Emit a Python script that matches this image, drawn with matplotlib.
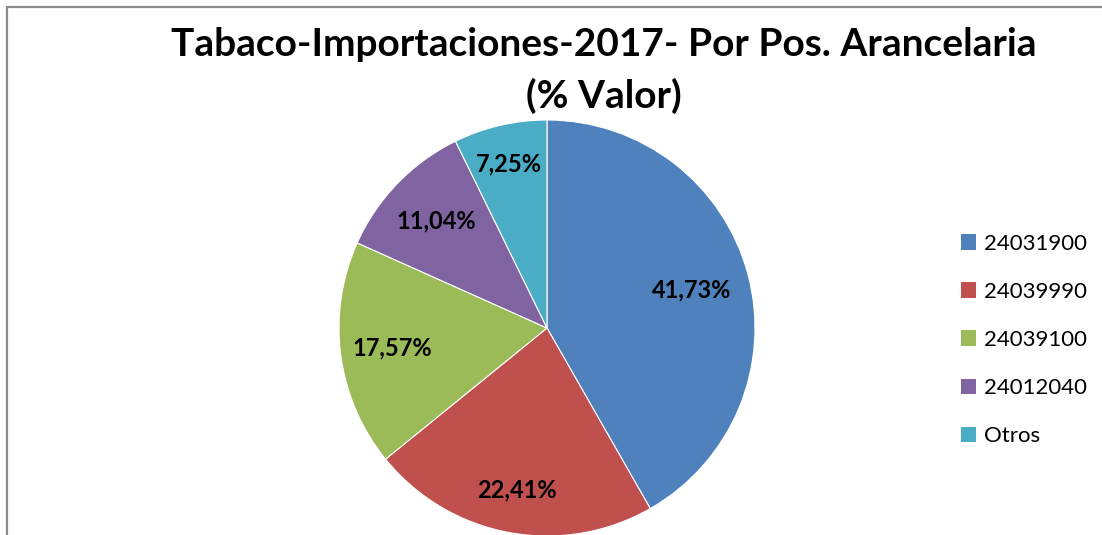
import matplotlib
matplotlib.use('Agg')
import numpy as np
import matplotlib.pyplot as plt
from matplotlib.patches import Rectangle, Patch

plt.rcParams['font.family'] = ['Lato', 'DejaVu Sans']

# data
categorias = ['24031900', '24039990', '24039100', '24012040', 'Otros']
valores = [41.73, 22.41, 17.57, 11.04, 7.25]
colores = ['#4F81BD', '#C0504D', '#9BBB59', '#8064A2', '#4BACC6']
titulo1 = 'Tabaco-Importaciones-2017- Por Pos. Arancelaria'
titulo2 = '(% Valor)'

fig = plt.figure(figsize=(11.02, 5.35), dpi=100)
W, H = 1102, 535

# chart frame (runs off the right and bottom edges)
fig.patches.append(Rectangle((6.5 / W, -0.1), 1.2, 1 - 7.5 / H + 0.1,
                             transform=fig.transFigure, fill=False,
                             edgecolor='#8c8c8c', linewidth=1.6))

# pie axes: centre (547, 328), radius 208 px
cx, cy, r = 547, 328, 208
ax = fig.add_axes([(cx - r) / W, (H - cy - r) / H, 2 * r / W, 2 * r / H])
wedges, texts, autotexts = ax.pie(
    valores, colors=colores, startangle=90, counterclock=False,
    autopct=lambda p: f'{p:.2f}%'.replace('.', ','), pctdistance=0.77,
    wedgeprops=dict(edgecolor='white', linewidth=0.8),
    textprops=dict(fontsize=17, fontweight='bold', color='black'))

# label radius per slice, as placed in the original
dist = [0.72, 0.79, 0.75, 0.74, 0.81]
for w, t, d in zip(wedges, autotexts, dist):
    ang = np.deg2rad((w.theta1 + w.theta2) / 2)
    t.set_position((d * np.cos(ang), d * np.sin(ang)))

ax.set_xlim(-1, 1)
ax.set_ylim(-1, 1)
ax.axis('off')

fig.text(604 / W, 1 - 56 / H, titulo1, ha='center', va='baseline',
         fontsize=28, fontweight='bold')
fig.text(604 / W, 1 - 108 / H, titulo2, ha='center', va='baseline',
         fontsize=28, fontweight='bold')

handles = [Patch(facecolor=c, edgecolor='none') for c in colores]
fig.legend(handles, categorias, loc='center left',
           bbox_to_anchor=(952 / W, 1 - 340 / H), frameon=False,
           fontsize=16, handlelength=0.7, handleheight=0.7,
           handletextpad=0.35, labelspacing=1.27, borderaxespad=0)

fig.savefig('out.png', dpi=100)
